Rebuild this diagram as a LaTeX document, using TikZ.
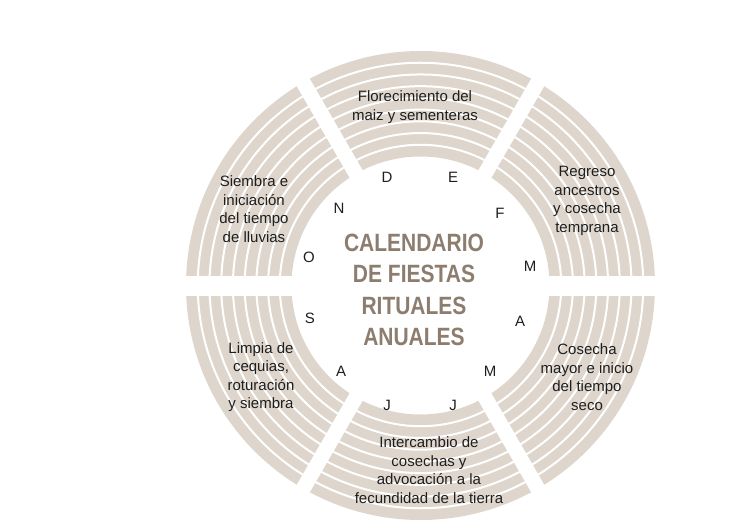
\documentclass[tikz,border=0pt]{standalone}
\usepackage{fontspec}
\setmainfont{Liberation Sans}
\newfontfamily\titlefont[FakeStretch=0.84]{Liberation Sans}
\definecolor{arena}{RGB}{222,214,204}
\definecolor{tierra}{RGB}{140,125,110}
\definecolor{texto}{RGB}{30,30,30}
\tikzset{
  fiesta/.style={align=center, font=\fontsize{15}{18.5}\selectfont, text=texto, inner sep=0pt},
  mes/.style={font=\fontsize{15}{15}\selectfont, text=texto, inner sep=0pt},
  titulo/.style={align=center, font=\titlefont\bfseries\fontsize{25}{31.3}\selectfont, text=tierra, inner sep=0pt},
  raya/.style={draw=white, line width=2pt},
  corte/.style={draw=white, line width=15pt}
}
\begin{document}
\begin{tikzpicture}[x=1pt, y=-1pt]
\useasboundingbox (0,0) rectangle (729,524);
\begin{scope}[shift={(420.5,285.5)}]
\fill[arena, even odd rule] (0,0) circle [radius=234.5pt] (0,0) circle [radius=129pt];
\foreach \k in {1,...,8} \draw[raya] (0,0) circle [radius={(129+\k*11.72)*1pt}];
\draw[corte, line width=20pt] (0:245) -- (180:245);
\foreach \a in {60,120} \draw[corte] (\a:245) -- (\a+180:245);
\end{scope}
\node[titulo] (calendario) at (414,290) {CALENDARIO\\DE FIESTAS\\RITUALES\\ANUALES};
\foreach \m/\px/\py [count=\i] in {D/387/177, E/453/177, F/500/213, M/530/266, A/520/321, M/490/371, J/453/405, J/387/405, A/341/371, S/310/318, O/309/257, N/339/208}
  \node[mes] (mes\i) at (\px,\py) {\m};
\node[fiesta] (florecimiento) at (415,107) {Florecimiento del\\maiz y sementeras};
\node[fiesta] (regreso) at (587,201) {Regreso\\ancestros\\y cosecha\\temprana};
\node[fiesta] (cosecha) at (587,377) {Cosecha\\mayor e inicio\\del tiempo\\seco};
\node[fiesta] (intercambio) at (429,470) {Intercambio de\\cosechas y\\advocación a la\\fecundidad de la tierra};
\node[fiesta] (limpia) at (261,377) {Limpia de\\cequias,\\roturación\\y siembra};
\node[fiesta] (siembra) at (254,209) {Siembra e\\iniciación\\del tiempo\\de lluvias};
\end{tikzpicture}
\end{document}
